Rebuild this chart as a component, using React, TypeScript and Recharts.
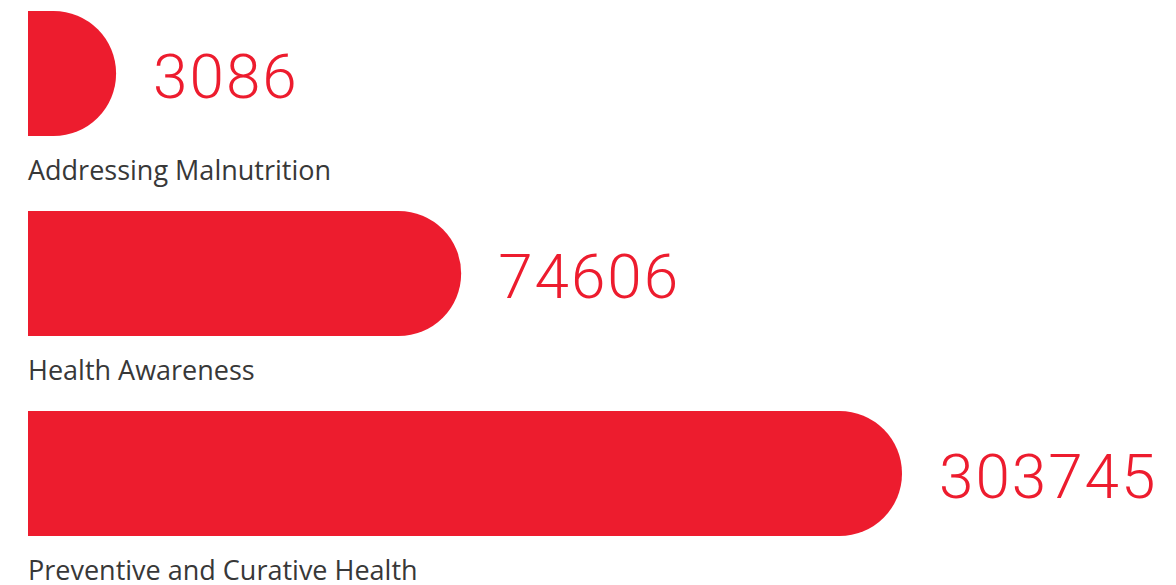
import React from 'react';
import { BarChart, Bar, XAxis, YAxis, LabelList } from 'recharts';

const categories = ['Addressing Malnutrition', 'Health Awareness', 'Preventive and Curative Health'];
const beneficiaries = [3086, 74606, 303745];

const data = categories.map((name, i) => ({ name, value: beneficiaries[i] }));

const RED = '#ED1C2E';

// flat left edge, half-circle cap on the right
const PillBar = (props: any) => {
  const { x, y, width, height, fill } = props;
  if (!width || width <= 0) return null;
  const r = Math.min(height / 2, width);
  const flatEnd = x + width - r;
  const d = `M${x},${y} L${flatEnd},${y} A${r},${r} 0 0 1 ${flatEnd},${y + height} L${x},${y + height} Z`;
  return <path d={d} fill={fill} />;
};

const CategoryLabel = (props: any) => {
  const { x, y, height, value } = props;
  return (
    <text
      x={x}
      y={y + height + 44}
      fill="#383838"
      fontSize={27}
      fontFamily="'Open Sans', sans-serif"
    >
      {value}
    </text>
  );
};

const ValueLabel = (props: any) => {
  const { x, y, width, height, value } = props;
  return (
    <text
      x={x + width + 37}
      y={y + height / 2 + 24}
      fill={RED}
      fontSize={62}
      fontWeight={300}
      letterSpacing={2}
      fontFamily="Roboto, sans-serif"
    >
      {value}
    </text>
  );
};

const App: React.FC = () => {
  return (
    <div style={{ position: 'absolute', left: 0, top: -27, width: 1176, height: 620 }}>
      <BarChart
        width={1176}
        height={620}
        data={data}
        layout="vertical"
        margin={{ top: 0, right: 274, bottom: 20, left: 28 }}
        barCategoryGap={75}
      >
        <XAxis type="number" scale="sqrt" domain={[0, 303745]} hide />
        <YAxis type="category" dataKey="name" hide width={0} />
        <Bar dataKey="value" fill={RED} barSize={125} shape={<PillBar />} isAnimationActive={false}>
          <LabelList dataKey="name" content={<CategoryLabel />} />
          <LabelList dataKey="value" content={<ValueLabel />} />
        </Bar>
      </BarChart>
    </div>
  );
};

export default App;
